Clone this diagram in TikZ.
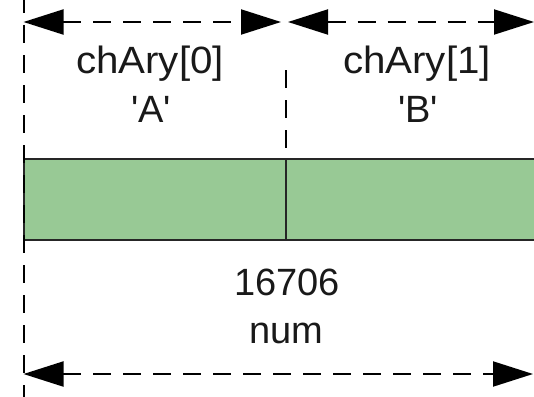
\documentclass[tikz,border=0pt]{standalone}
\usepackage{fontspec}
\setmainfont{Liberation Sans}
\usetikzlibrary{arrows.meta}
\definecolor{cellgreen}{HTML}{98C995}
\tikzset{
  dim/.style={line width=2pt, dash pattern=on 18pt off 12pt, {Triangle[length=40pt,width=25pt]}-{Triangle[length=40pt,width=25pt]}},
  guide/.style={line width=2pt, dash pattern=on 18pt off 12pt},
  cell/.style={draw=black!85, line width=2pt, fill=cellgreen},
  lbl/.style={font=\fontsize{38}{48}\selectfont, anchor=base, inner sep=0pt, text=black!90}
}
\begin{document}
\begin{tikzpicture}[x=1pt,y=-1pt]
\useasboundingbox (0,0) rectangle (534,396);
% cells
\draw[cell] (24,159) rectangle (286,240);
\draw[cell] (286,159) rectangle (560,240);
% guides
\coordinate (gl0) at (23.5,-5);
\coordinate (gl1) at (23.5,400);
\coordinate (gm0) at (286,70);
\coordinate (gm1) at (286,159);
\draw[guide] (gl0) -- (gl1);
\draw[guide] (gm0) -- (gm1);
% dimension arrows
\coordinate (a0) at (23.5,22);
\coordinate (a1) at (281,22);
\coordinate (b0) at (288,22);
\coordinate (b1) at (534,22);
\coordinate (c0) at (23.5,374);
\coordinate (c1) at (533,374);
\draw[dim] (a0) -- (a1);
\draw[dim] (b0) -- (b1);
\draw[dim] (c0) -- (c1);
% labels
\node[lbl] (n0) at (150,73) {\scalebox{1.06}[1]{chAry[0]}};
\node[lbl] (v0) at (151,122) {\textquotesingle A\textquotesingle};
\node[lbl] (n1) at (417,73) {\scalebox{1.06}[1]{chAry[1]}};
\node[lbl] (v1) at (418,122) {\textquotesingle B\textquotesingle};
\node[lbl] (num) at (287,295) {16706};
\node[lbl] (nm) at (286,343) {num};
\end{tikzpicture}
\end{document}
